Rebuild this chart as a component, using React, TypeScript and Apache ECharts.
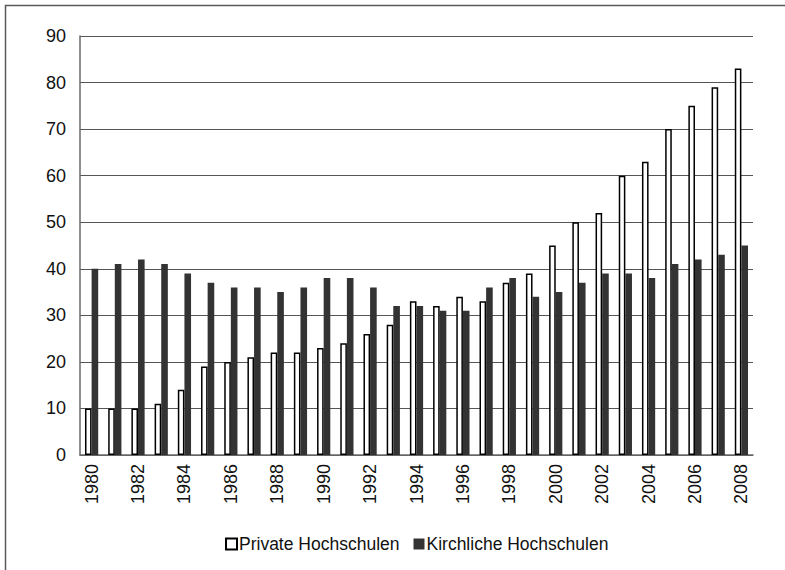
import React, { useEffect, useRef } from "react";
import * as echarts from "echarts";

const years = [
  "1980", "1981", "1982", "1983", "1984", "1985", "1986", "1987", "1988", "1989",
  "1990", "1991", "1992", "1993", "1994", "1995", "1996", "1997", "1998", "1999",
  "2000", "2001", "2002", "2003", "2004", "2005", "2006", "2007", "2008",
];
const privateHochschulen = [
  10, 10, 10, 11, 14, 19, 20, 21, 22, 22,
  23, 24, 26, 28, 33, 32, 34, 33, 37, 39,
  45, 50, 52, 60, 63, 70, 75, 79, 83,
];
const kirchlicheHochschulen = [
  40, 41, 42, 41, 39, 37, 36, 36, 35, 36,
  38, 38, 36, 32, 32, 31, 31, 36, 38, 34,
  35, 37, 39, 39, 38, 41, 42, 43, 45,
];
const seriesNames = ["Private Hochschulen", "Kirchliche Hochschulen"];

const FONT = "Liberation Sans";

export default function App() {
  const ref = useRef<HTMLDivElement>(null);
  useEffect(() => {
    if (!ref.current) return;
    const chart = echarts.init(ref.current, undefined, { renderer: "svg" });
    chart.setOption({
      animation: false,
      backgroundColor: "#ffffff",
      textStyle: { fontFamily: FONT },
      graphic: [
        {
          type: "rect",
          shape: { x: 5.5, y: 5.5, width: 900, height: 900 },
          style: { fill: "none", stroke: "#5a5a5a", lineWidth: 1.5 },
          silent: true,
        },
      ],
      legend: {
        data: [
          { name: seriesNames[0], icon: "rect" },
          { name: seriesNames[1], icon: "rect" },
        ],
        left: 220,
        top: 530,
        itemWidth: 11,
        itemHeight: 11,
        itemGap: 14,
        textStyle: { fontFamily: FONT, fontSize: 17.5, color: "#111", padding: [0, 0, 0, -3] },
      },
      grid: { left: 80, right: 32, top: 36, bottom: 115, containLabel: false },
      xAxis: {
        type: "category",
        data: years,
        axisLine: { lineStyle: { color: "#6a6a6a", width: 1.5 } },
        axisTick: { show: false },
        axisLabel: {
          interval: 1,
          rotate: 90,
          margin: 9,
          fontFamily: FONT,
          fontSize: 18,
          color: "#111",
        },
      },
      yAxis: {
        type: "value",
        min: 0,
        max: 90,
        interval: 10,
        axisLine: { show: true, lineStyle: { color: "#6a6a6a", width: 1.5 } },
        axisTick: { show: false },
        splitLine: { lineStyle: { color: "#555555", width: 1.2 } },
        axisLabel: {
          margin: 14,
          fontFamily: FONT,
          fontSize: 18,
          color: "#111",
        },
      },
      series: [
        {
          name: seriesNames[0],
          type: "bar",
          data: privateHochschulen,
          barGap: "0%",
          barCategoryGap: "43%",
          itemStyle: { color: "#ffffff", borderColor: "#000000", borderWidth: 1.5 },
        },
        {
          name: seriesNames[1],
          type: "bar",
          data: kirchlicheHochschulen,
          itemStyle: { color: "#333333" },
        },
      ],
    });
    return () => chart.dispose();
  }, []);
  return (
    <div
      ref={ref}
      style={{ position: "absolute", left: 0, top: 0, width: 785, height: 570 }}
    />
  );
}
